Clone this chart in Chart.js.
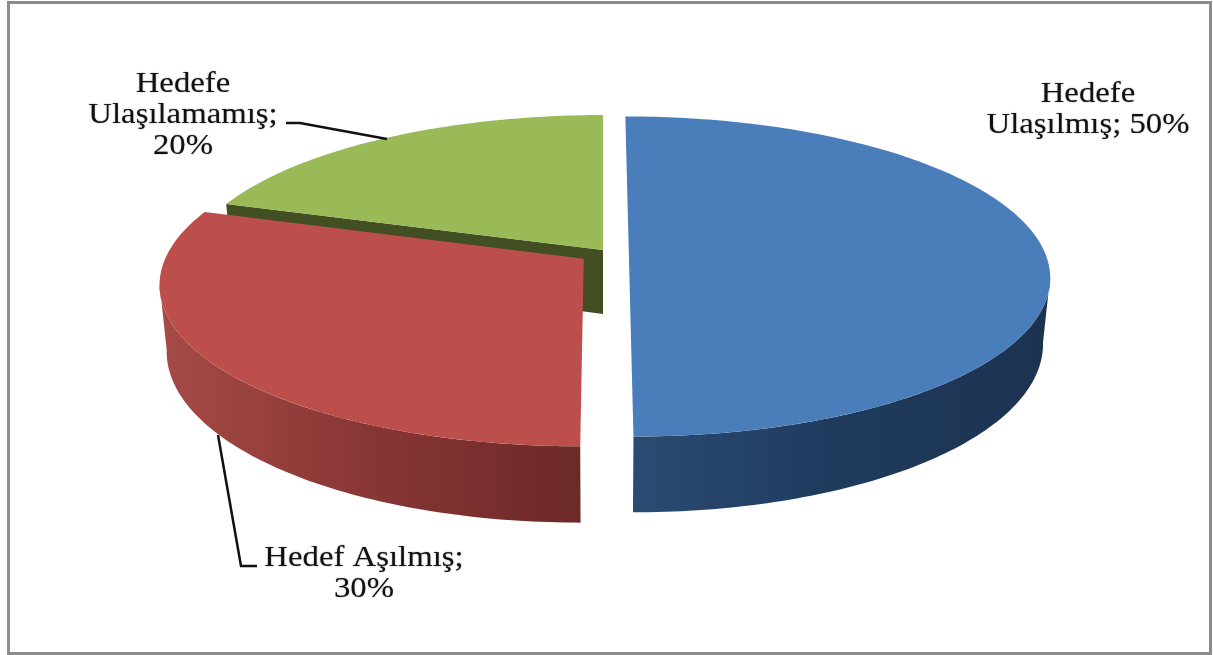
<!DOCTYPE html>
<html>
<head>
<meta charset="utf-8">
<title>Hedef pie</title>
<script src="https://cdn.jsdelivr.net/npm/chart.js@4"></script>
<style>
    html, body { margin: 0; padding: 0; background: #fff; overflow: hidden; }
    #wrap { position: relative; width: 1213px; height: 655px; }
</style>
</head>
<body>
<div id="wrap"><canvas id="chart"></canvas></div>
<script>
// Values
const categories = ['Hedefe Ulaşılmış', 'Hedef Aşılmış', 'Hedefe Ulaşılamamış'];
const shares = [50, 30, 20];
const labelLines = [
    ['Hedefe', 'Ulaşılmış; 50%'],
    ['Hedef Aşılmış;', '30%'],
    ['Hedefe', 'Ulaşılamamış;', '20%']
];

const topColors = ['#4a7ebb', '#bc4f4c', '#9aba58'];
const wallColors = ['#2a4a70', '#6e2a29', '#424f22'];
const sideStops = [
    ['#2b4b72', '#1f3a5d', '#1c3350'],
    ['#a64a47', '#883634', '#6c2928'],
    ['#424f22', '#424f22', '#424f22']
];

// How far each slice is pulled out of the pie, in pie radii
const explode = [
    { x: 0.062, z: 0.012 },
    { x: -0.046, z: 0.056 },
    { x: 0, z: 0 }
];

// Perspective of the tilted pie; the underside is a little smaller than the top
const view = { cx: 603, cy: 250, rx: 415, ry: 155.7, k: 0.1536, depth: 64, shrink: 0.016 };

// Text blocks, centre x and first baseline
const labelBoxes = [
    { x: 1088, y: 102 },
    { x: 364, y: 566 },
    { x: 183, y: 92 }
];
const leaders = [
    null,
    [[218, 435], [241, 566], [257, 566]],
    [[286, 123], [300, 123], [387, 139]]
];

function project(a, off, h) {
    const u = Math.cos(a) + off.x;
    const v = Math.sin(a) + off.z;
    const w = 1 - view.k * v;
    return {
        x: view.cx + view.rx * u * (1 - view.shrink * h) / w,
        y: view.cy + (view.ry * v + h * view.depth) / w
    };
}

function centre(off, h) {
    const w = 1 - view.k * off.z;
    return {
        x: view.cx + view.rx * off.x * (1 - view.shrink * h) / w,
        y: view.cy + (view.ry * off.z + h * view.depth) / w
    };
}

function arcPath(c, from, to, off, h) {
    const steps = Math.max(2, Math.ceil(Math.abs(to - from) * 60));
    for (let i = 0; i <= steps; i++) {
        const p = project(from + (to - from) * i / steps, off, h);
        c.lineTo(p.x, p.y);
    }
}

function drawWall(c, a, off, color) {
    const o0 = centre(off, 0), o1 = centre(off, 1);
    const p0 = project(a, off, 0), p1 = project(a, off, 1);
    c.beginPath();
    c.moveTo(o0.x, o0.y);
    c.lineTo(p0.x, p0.y);
    c.lineTo(p1.x, p1.y);
    c.lineTo(o1.x, o1.y);
    c.closePath();
    c.fillStyle = color;
    c.fill();
}

// Chart.js has no 3D pie, so the arc elements are projected here
const pie3d = {
    id: 'pie3d',
    beforeDraw: (chart) => {
        const c = chart.ctx;
        c.save();
        c.strokeStyle = '#8c8c8c';
        c.lineWidth = 3;
        c.strokeRect(8.5, 2.5, 1202, 651);
        c.restore();
    },
    beforeDatasetsDraw: (chart) => {
        const c = chart.ctx;
        const arcs = chart.getDatasetMeta(0).data;
        const frontMin = Math.asin(view.k);
        const frontMax = Math.PI - frontMin;
        c.save();
        for (let i = arcs.length - 1; i >= 0; i--) {
            const arc = arcs[i];
            const off = explode[i];
            const start = arc.startAngle;
            const end = arc.endAngle;

            // radial walls, only those turned towards the viewer
            if (-Math.cos(start) > 0.01) drawWall(c, start, off, wallColors[i]);
            if (Math.cos(end) > 0.01) drawWall(c, end, off, wallColors[i]);

            // outer rim, only the part facing the viewer
            const from = Math.max(start, frontMin);
            const to = Math.min(end, frontMax);
            if (to > from) {
                const a = project(to, off, 0).x;
                const b = project(from, off, 0).x;
                const grad = c.createLinearGradient(Math.min(a, b), 0, Math.max(a, b), 0);
                const stops = sideStops[i];
                grad.addColorStop(0, stops[0]);
                grad.addColorStop(0.5, stops[1]);
                grad.addColorStop(1, stops[2]);
                c.beginPath();
                arcPath(c, from, to, off, 0);
                arcPath(c, to, from, off, 1);
                c.closePath();
                c.fillStyle = grad;
                c.fill();
            }

            // top face
            const o = centre(off, 0);
            c.beginPath();
            c.moveTo(o.x, o.y);
            arcPath(c, start, end, off, 0);
            c.closePath();
            c.fillStyle = arc.options.backgroundColor;
            c.fill();
        }
        c.restore();
        return false;
    },
    afterDraw: (chart) => {
        const c = chart.ctx;
        c.save();
        c.strokeStyle = '#111';
        c.lineWidth = 2.5;
        leaders.forEach((pts) => {
            if (!pts) return;
            c.beginPath();
            pts.forEach((p, i) => (i ? c.lineTo(p[0], p[1]) : c.moveTo(p[0], p[1])));
            c.stroke();
        });
        c.fillStyle = '#111';
        c.font = '29px "Liberation Serif"';
        c.textAlign = 'center';
        c.shadowColor = 'rgba(0, 0, 0, 0.45)';
        c.shadowBlur = 1.5;
        labelLines.forEach((lines, i) => {
            lines.forEach((line, j) => {
                c.save();
                c.translate(labelBoxes[i].x, labelBoxes[i].y + j * 31);
                c.scale(1.13, 1);   // the source picture is stretched sideways
                c.fillText(line, 0, 0);
                c.restore();
            });
        });
        c.restore();
    }
};

new Chart(document.getElementById('chart'), {
    type: 'pie',
    data: {
        labels: categories,
        datasets: [{
            data: shares,
            backgroundColor: topColors,
            borderWidth: 0
        }]
    },
    plugins: [pie3d],
    options: {
        responsive: true,
        maintainAspectRatio: false,
        animation: false,
        plugins: {
            legend: { display: false },
            tooltip: { enabled: false }
        }
    }
});
</script>
</body>
</html>
